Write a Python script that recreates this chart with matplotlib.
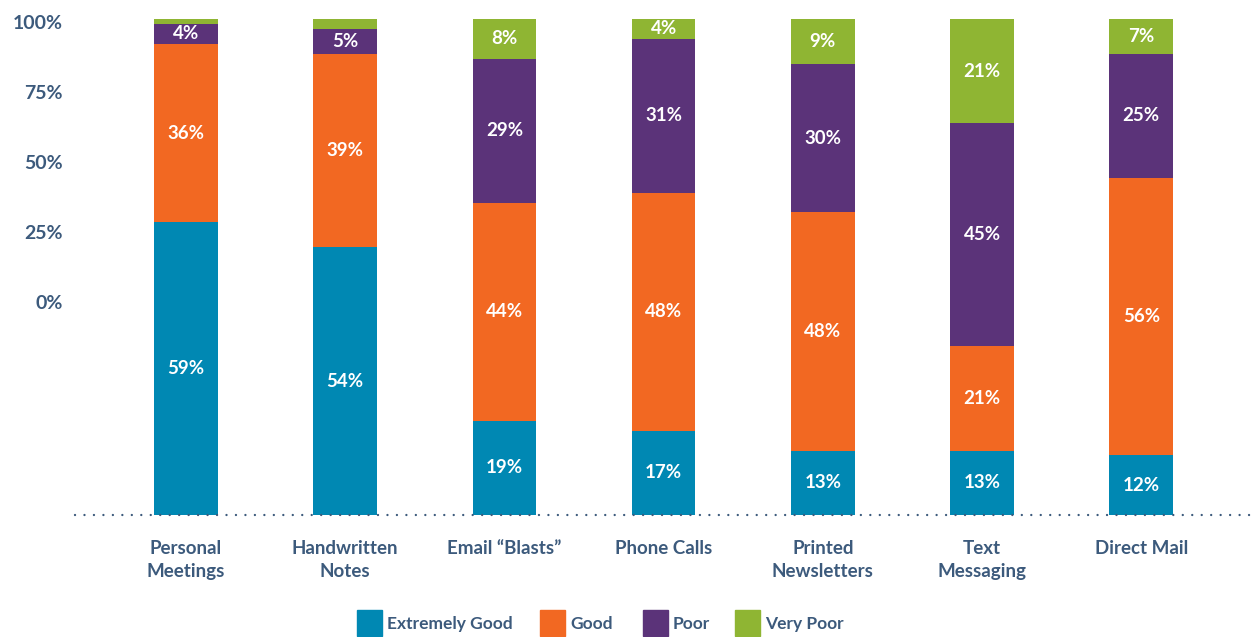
import matplotlib.pyplot as plt
from matplotlib.patches import Rectangle

plt.rcParams['font.family'] = ['Lato', 'DejaVu Sans']
plt.rcParams['font.weight'] = 'bold'

channels = ["Personal\nMeetings", "Handwritten\nNotes", "Email \u201cBlasts\u201d", "Phone Calls",
            "Printed\nNewsletters", "Text\nMessaging", "Direct Mail"]
extremely_good = [59, 54, 19, 17, 13, 13, 12]
good = [36, 39, 44, 48, 48, 21, 56]
poor = [4, 5, 29, 31, 30, 45, 25]
very_poor = [1, 2, 8, 4, 9, 21, 7]
ratings = ["Extremely Good", "Good", "Poor", "Very Poor"]
ytick_labels = ["100%", "75%", "50%", "25%", "0%"]
ytick_pos = [99.4, 85.3, 71.2, 57.1, 42.9]

colors = ["#0088b3", "#f26822", "#5b3379", "#8fb533"]
txt = "#3c5a7c"

W, H = 1254, 637
fig = plt.figure(figsize=(W / 100, H / 100), dpi=100)
ax = fig.add_axes([75 / W, (H - 515) / H, (W - 75) / W, 496 / H])

x = range(len(channels))
bottom = [0] * len(channels)
for series, c in zip([extremely_good, good, poor, very_poor], colors):
    ax.bar(x, series, 0.40, bottom=bottom, color=c, zorder=2)
    for i, v in enumerate(series):
        if v >= 3:
            ax.text(i, bottom[i] + v / 2, f"{v}%", ha="center", va="center",
                    color="white", fontsize=13.5, fontweight="bold", zorder=3)
    bottom = [b + v for b, v in zip(bottom, series)]

ax.set_xlim(-0.697, 6.708)
ax.set_ylim(0, 100)
ax.axhline(0, color=txt, lw=1.7, ls=(0, (0.01, 4.0)), dash_capstyle="round", zorder=4, clip_on=False)

for s in ax.spines.values():
    s.set_visible(False)
ax.set_xticks(list(x))
ax.set_xticklabels(channels, fontsize=13.5, fontweight="bold", color=txt, linespacing=1.4)
ax.set_yticks(ytick_pos)
ax.set_yticklabels(ytick_labels, fontsize=14, fontweight="bold", color=txt)
ax.tick_params(axis="x", length=0, pad=18)
ax.tick_params(axis="y", length=0, pad=9)

# legend row along the bottom
sq_x = [357, 540, 643, 735]
for px, c, lab in zip(sq_x, colors, ratings):
    fig.add_artist(Rectangle((px / W, (H - 636) / H), 25 / W, 26 / H,
                             transform=fig.transFigure, color=c))
    fig.text((px + 30) / W, (H - 624) / H, lab, ha="left", va="center",
             fontsize=12.5, fontweight="bold", color=txt)

fig.savefig("out.png", dpi=100)
